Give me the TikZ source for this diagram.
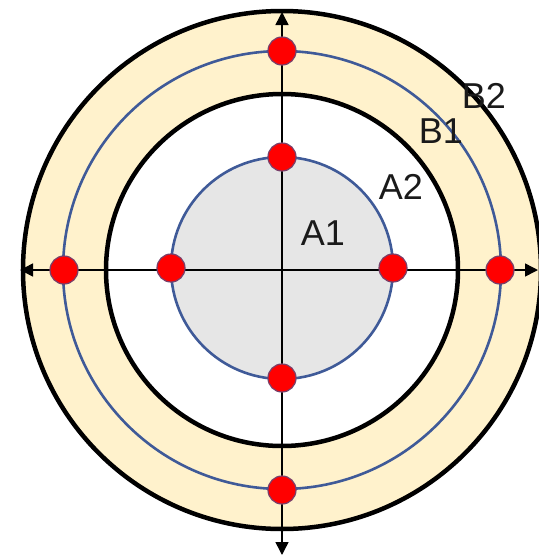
\documentclass[tikz,border=0pt]{standalone}
\usepackage{fontspec}
\setmainfont{Liberation Sans}
\usetikzlibrary{arrows.meta}
\definecolor{cream}{HTML}{FFF2CC}
\definecolor{lgray}{HTML}{E6E6E6}
\definecolor{ringblue}{HTML}{3F5A98}
\definecolor{dotred}{HTML}{FF0000}
\definecolor{txt}{HTML}{1A1A1A}
\tikzset{
  blackring/.style={line width=4.5pt, draw=black},
  bluering/.style={line width=2.6pt, draw=ringblue},
  axis/.style={line width=1.5pt, black, -{Triangle[length=13pt,width=13pt]}},
  dot/.style={circle, fill=dotred, draw=ringblue!70!dotred, line width=1.2pt, minimum size=28pt, inner sep=0pt},
  lbl/.style={font=\fontsize{36pt}{40pt}\selectfont, text=txt, inner sep=0pt}
}
\begin{document}
\begin{tikzpicture}[x=1pt,y=-1pt]
\useasboundingbox (0,0) rectangle (539,558);
\clip (0,0) rectangle (539,558);
\coordinate (c) at (282,270);
% outer band
\fill[cream, even odd rule] (c) circle[radius=259] (c) circle[radius=176];
\draw[blackring] (c) circle[radius=259];
\draw[blackring] (c) circle[radius=176];
\draw[bluering] (c) circle[radius=219];
% inner disc
\filldraw[fill=lgray, bluering] (282,268) circle[radius=111];
% axes
\coordinate (xl) at (20,270);
\coordinate (xr) at (538,270);
\coordinate (yt) at (282,12);
\coordinate (yb) at (282,555);
\draw[axis] (c) -- (xl);
\draw[axis] (c) -- (xr);
\draw[axis] (c) -- (yt);
\draw[axis] (c) -- (yb);
% dots
\node[dot] (bn) at (282,51) {};
\node[dot] (bs) at (282,490) {};
\node[dot] (bw) at (64,270) {};
\node[dot] (be) at (500,270) {};
\node[dot] (an) at (282,157) {};
\node[dot] (as) at (282,378) {};
\node[dot] (aw) at (171,268) {};
\node[dot] (ae) at (393,268) {};
% labels
\node[lbl] (a1) at (323,233) {A1};
\node[lbl] (a2) at (401,187) {A2};
\node[lbl] (b1) at (441,131) {B1};
\node[lbl] (b2) at (484,96) {B2};
\end{tikzpicture}
\end{document}
